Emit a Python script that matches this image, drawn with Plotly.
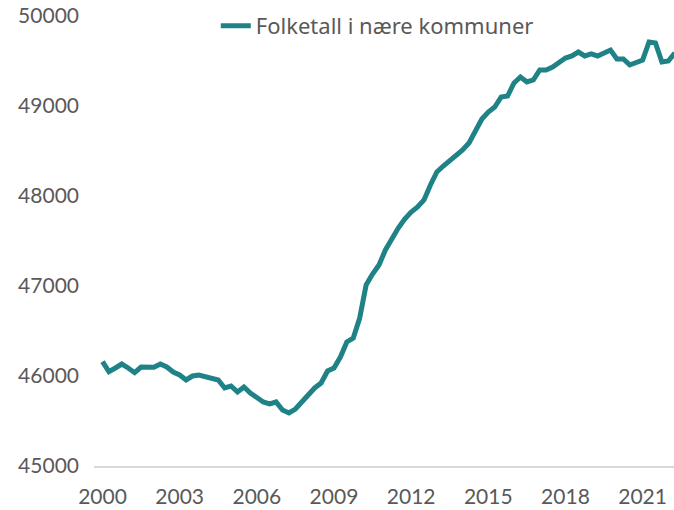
import plotly.graph_objects as go

LINE_COLOR = "#1F8286"
TEXT_COLOR = "#595959"
AXIS_COLOR = "#D9D9D9"

START_YEAR = 2000
SERIES_NAME = "Folketall i nære kommuner"

# quarterly population, 2000 Q1 onwards
folketall = [
    46159, 46048, 46089, 46133, 46089, 46037, 46100, 46100, 46097, 46133,
    46100, 46044, 46011, 45956, 46000, 46011, 45992, 45978, 45956, 45867,
    45889, 45822, 45878, 45811, 45756, 45711, 45689, 45711, 45622, 45589,
    45633, 45711, 45800, 45867, 45922, 46056, 46089, 46211, 46378, 46422,
    46644, 47011, 47133, 47233, 47400, 47533, 47644, 47744, 47822, 47878,
    47956, 48122, 48267, 48333, 48389, 48444, 48511, 48589, 48711, 48856,
    48933, 48989, 49100, 49111, 49256, 49322, 49267, 49289, 49400, 49400,
    49433, 49478, 49533, 49556, 49600, 49556, 49578, 49556, 49589, 49622,
    49522, 49522, 49456, 49478, 49511, 49711, 49700, 49489, 49500, 49589,
]
x_vals = [START_YEAR + i / 4 for i in range(len(folketall))]

tick_years = [2000, 2003, 2006, 2009, 2012, 2015, 2018, 2021]
y_ticks = [45000, 46000, 47000, 48000, 49000, 50000]

fig = go.Figure()
fig.add_trace(go.Scatter(
    x=x_vals,
    y=folketall,
    mode="lines",
    name=SERIES_NAME,
    line=dict(color=LINE_COLOR, width=5),
))
fig.update_layout(
    width=674,
    height=510,
    plot_bgcolor="white",
    paper_bgcolor="white",
    font=dict(family="Lato", color=TEXT_COLOR, size=21),
    margin=dict(l=94, r=0, t=16, b=44, autoexpand=False),
    showlegend=True,
    legend=dict(
        orientation="h", x=0.21, xanchor="left", y=0.978, yanchor="middle",
        bgcolor="rgba(0,0,0,0)",
        font=dict(family="Noto Sans", size=22, color=TEXT_COLOR),
    ),
    xaxis=dict(
        range=[1999.67, 2022.22],
        tickvals=tick_years,
        ticktext=[str(y) for y in tick_years],
        showgrid=False, zeroline=False,
        showline=True, linecolor=AXIS_COLOR, linewidth=2,
        ticks="", ticklabelstandoff=11,
    ),
    yaxis=dict(
        range=[45000, 50000],
        tickvals=y_ticks,
        ticktext=[str(v) for v in y_ticks],
        showgrid=False, zeroline=False, showline=False,
        ticks="", ticklabelstandoff=14, ticklabeloverflow="allow",
    ),
)
# drop the default 8px body margin so the figure fills the window
fig.write_html(
    "out.html",
    config={"displayModeBar": False},
    post_script="document.body.style.margin='0';",
)
